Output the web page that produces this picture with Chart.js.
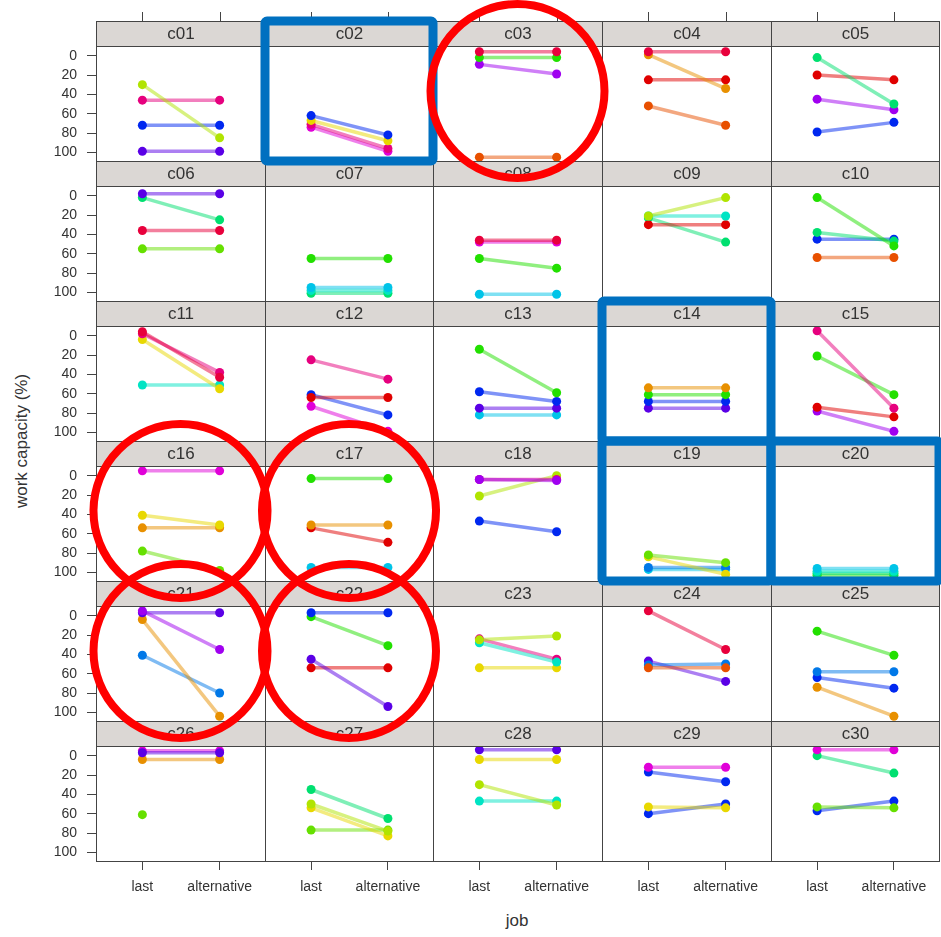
<!DOCTYPE html>
<html>
<head>
<meta charset="utf-8">
<title>work capacity by job</title>
<script src="https://cdn.jsdelivr.net/npm/chart.js@4.4.1/dist/chart.umd.min.js"></script>
<style>
    body { margin: 0; background: #fff; font-family: "Liberation Sans", Arial, sans-serif; }
    #wrap { position: relative; width: 941px; height: 937px; overflow: hidden; }
    #wrap canvas { position: absolute; }
    .axis-title { position: absolute; color: #333; font-size: 17px; white-space: nowrap; }
    #ylab { left: 22px; top: 441px; transform: translate(-50%, -50%) rotate(-90deg); }
    #xlab { left: 517px; top: 921px; transform: translate(-50%, -50%); }
    #marks { position: absolute; left: 0; top: 0; pointer-events: none; }
</style>
</head>
<body>
<div id="wrap">
    <div class="axis-title" id="ylab">work capacity (%)</div>
    <div class="axis-title" id="xlab">job</div>
    <svg id="marks" width="941" height="937"></svg>
</div>
<script>
// Data
const panelNames = ['c01','c02','c03','c04','c05','c06','c07','c08','c09','c10',
                    'c11','c12','c13','c14','c15','c16','c17','c18','c19','c20',
                    'c21','c22','c23','c24','c25','c26','c27','c28','c29','c30'];
const xTickLabels = ['last', 'alternative'];
const yTicks = [0, 20, 40, 60, 80, 100];

const lastValues = [
    [30, 46, 72, 99],  [62, 67, 71, 74],  [-4, 2, 9, 105],   [-4, -1, 25, 52], [2, 20, 45, 79],
    [-2, 2, 36, 55],   [65, 95, 98, 101], [46, 48, 65, 102], [21, 21, 30, 23], [2, 38, 45, 64],
    [-4, -2, 4, 51],   [25, 64, 61, 73],  [14, 58, 75, 82],  [54, 61, 68, 75], [-5, 21, 74, 78],
    [-5, 41, 54, 78],  [3, 51, 54, 95],   [4, 4, 21, 47],    [82, 84, 95, 97], [96, 99, 101, 103],
    [-5, -3, 4, 41],   [-3, 1, 45, 54],   [25, 28, 24, 54],  [-5, 54, 51, 47], [16, 58, 64, 74],
    [-3, -5, 4, 61],   [35, 50, 54, 77],  [-6, 4, 30, 47],   [12, 17, 53, 60], [-6, 0, 53, 57]
];
const altValues = [
    [85, 46, 72, 99],  [82, 88, 96, 99],  [-4, 2, 19, 105],  [-4, 34, 25, 72], [50, 25, 56, 69],
    [-2, 25, 36, 55],  [65, 95, 98, 101], [46, 48, 75, 102], [2, 21, 30, 48],  [52, 47, 45, 64],
    [43, 38, 55, 51],  [45, 64, 82, 99],  [59, 68, 75, 82],  [54, 61, 68, 75], [75, 61, 84, 99],
    [-5, 51, 54, 98],  [3, 51, 69, 95],   [5, 4, 0, 58],     [90, 102, 95, 97], [96, 99, 101, 103],
    [35, -3, 104, 80], [-3, 31, 94, 54],  [21, 48, 45, 54],  [35, 54, 50, 68], [41, 58, 75, 104],
    [-3, -5, 4, null], [65, 78, 83, 77],  [-6, 4, 51, 47],   [12, 27, 54, 50], [-6, 18, 54, 47]
];
const lineColors = [
    ['chartreuse','pink','blue','violet'], ['blue','yellow','pink','magenta'], ['crimson','green','purple','tangerine'],
    ['crimson','orange','red','tangerine'], ['spring','red','purple','blue'],
    ['violet','spring','crimson','lime'], ['green','cyan','turquoise','spring'], ['crimson','magenta','green','cyan'],
    ['chartreuse','turquoise','red','spring'], ['green','spring','blue','tangerine'],
    ['crimson','pink','yellow','turquoise'], ['pink','red','blue','magenta'], ['green','blue','violet','cyan'],
    ['orange','green','blue','violet'], ['pink','green','red','purple'],
    ['magenta','yellow','orange','lime'], ['green','orange','red','cyan'], ['purple','pink','chartreuse','blue'],
    ['lime','yellow','azure','cyan'], ['cyan','turquoise','spring','green'],
    ['purple','violet','orange','azure'], ['blue','green','violet','red'], ['chartreuse','turquoise','pink','yellow'],
    ['crimson','tangerine','azure','violet'], ['green','azure','blue','orange'],
    ['violet','magenta','orange','lime'], ['spring','chartreuse','yellow','lime'], ['violet','yellow','chartreuse','turquoise'],
    ['magenta','blue','yellow','blue'], ['magenta','spring','lime','blue']
];

// highlighted panels
const blueBoxes = ['c02', 'c14', 'c19', 'c20'];
const redCircles = ['c03', 'c16', 'c17', 'c21', 'c22'];

const palette = {
    crimson: '#e8003c', pink: '#e6007e', magenta: '#e000d8', purple: '#a000f0', violet: '#5a00e6',
    blue: '#0028f0', azure: '#0078e8', cyan: '#00c4e8', turquoise: '#00e4c4', spring: '#00e070',
    green: '#22e000', lime: '#66e000', chartreuse: '#b0e400', yellow: '#e8d800', orange: '#e89000',
    tangerine: '#e85000', red: '#e00000'
};

// panel grid (strip top of each row, column edges)
const colEdges = [96, 265, 433, 602, 771, 939];
const rowTops = [21, 161, 301, 441, 581, 721];
const stripH = 25;

function hexToRgba(hex, a) {
    const n = parseInt(hex.slice(1), 16);
    return `rgba(${(n >> 16) & 255}, ${(n >> 8) & 255}, ${n & 255}, ${a})`;
}

function framePlugin(name, topTicks) {
    return {
        id: 'frame',
        afterDraw(chart) {
            const { ctx, chartArea } = chart;
            const l = chartArea.left, r = chartArea.right, t = chartArea.top, b = chartArea.bottom;
            ctx.save();
            // strip
            ctx.fillStyle = '#dbd7d4';
            ctx.fillRect(l, t - stripH, r - l, stripH);
            ctx.strokeStyle = '#444';
            ctx.lineWidth = 1;
            ctx.strokeRect(l + 0.5, t - stripH + 0.5, r - l - 1, stripH);
            ctx.strokeRect(l + 0.5, t + 0.5, r - l - 1, b - t - 1);
            ctx.fillStyle = '#333';
            ctx.font = '17px "Liberation Sans", Arial, sans-serif';
            ctx.textAlign = 'center';
            ctx.textBaseline = 'middle';
            ctx.fillText(name, (l + r) / 2, t - stripH / 2 + 1);
            if (topTicks) {
                const xs = chart.scales.x;
                ctx.beginPath();
                [1, 2].forEach(v => {
                    const px = Math.round(xs.getPixelForValue(v)) + 0.5;
                    ctx.moveTo(px, t - stripH);
                    ctx.lineTo(px, t - stripH - 9);
                });
                ctx.stroke();
            }
            ctx.restore();
        }
    };
}

const wrap = document.getElementById('wrap');
const marks = document.getElementById('marks');

for (let i = 0; i < panelNames.length; i++) {
    const row = Math.floor(i / 5), col = i % 5;
    const leftPad = col === 0 ? 70 : 0;
    const topPad = row === 0 ? 12 : 0;
    const bottomPad = row === 5 ? 50 : 0;

    const canvas = document.createElement('canvas');
    canvas.width = colEdges[col + 1] - colEdges[col] + 1 + leftPad;
    canvas.height = 141 + topPad + bottomPad;
    canvas.style.left = (colEdges[col] - leftPad) + 'px';
    canvas.style.top = (rowTops[row] - topPad) + 'px';
    wrap.insertBefore(canvas, marks);

    const datasets = lineColors[i].map((c, k) => ({
        data: [{ x: 1, y: lastValues[i][k] }, { x: 2, y: altValues[i][k] }],
        borderColor: hexToRgba(palette[c], 0.5),
        borderWidth: 3.5,
        pointBackgroundColor: palette[c],
        pointBorderColor: palette[c],
        pointBorderWidth: 0,
        pointRadius: 4.5,
        tension: 0
    }));

    new Chart(canvas, {
        type: 'line',
        data: { datasets: datasets },
        options: {
            responsive: false,
            animation: false,
            events: [],
            layout: { autoPadding: false, padding: { top: stripH + topPad, left: 0, right: 0, bottom: 0 } },
            plugins: { legend: { display: false }, tooltip: { enabled: false } },
            scales: {
                x: {
                    type: 'linear',
                    min: 0.4,
                    max: 2.6,
                    display: row === 5,
                    afterBuildTicks: s => { s.ticks = [{ value: 1 }, { value: 2 }]; },
                    afterFit: s => {
                        if (row === 5) s.height = bottomPad;
                        s.paddingLeft = 0; s.paddingRight = 0;
                    },
                    border: { display: false },
                    grid: { drawOnChartArea: false, tickLength: 8, color: '#444' },
                    ticks: {
                        color: '#333',
                        padding: 9,
                        maxRotation: 0,
                        font: { size: 14, family: '"Liberation Sans", Arial, sans-serif' },
                        callback: v => xTickLabels[v - 1]
                    }
                },
                y: {
                    reverse: true,
                    min: -10,
                    max: 110,
                    display: col === 0,
                    afterBuildTicks: s => { s.ticks = yTicks.map(v => ({ value: v })); },
                    afterFit: s => {
                        if (col === 0) s.width = leftPad;
                        s.paddingTop = 0; s.paddingBottom = 0;
                    },
                    border: { display: false },
                    grid: { drawOnChartArea: false, tickLength: 9, color: '#444' },
                    ticks: {
                        color: '#333',
                        padding: 10,
                        font: { size: 14, family: '"Liberation Sans", Arial, sans-serif' }
                    }
                }
            }
        },
        plugins: [framePlugin(panelNames[i], row === 0)]
    });
}

// highlight marks over the panels
const NS = 'http://www.w3.org/2000/svg';
blueBoxes.forEach(name => {
    const i = panelNames.indexOf(name), row = Math.floor(i / 5), col = i % 5;
    const rect = document.createElementNS(NS, 'rect');
    rect.setAttribute('x', colEdges[col]);
    rect.setAttribute('y', rowTops[row]);
    rect.setAttribute('width', colEdges[col + 1] - colEdges[col]);
    rect.setAttribute('height', 140);
    rect.setAttribute('rx', 2);
    rect.setAttribute('fill', 'none');
    rect.setAttribute('stroke', '#0070c0');
    rect.setAttribute('stroke-width', 9);
    marks.appendChild(rect);
});
redCircles.forEach(name => {
    const i = panelNames.indexOf(name), row = Math.floor(i / 5), col = i % 5;
    const circle = document.createElementNS(NS, 'circle');
    circle.setAttribute('cx', (colEdges[col] + colEdges[col + 1]) / 2);
    circle.setAttribute('cy', rowTops[row] + 70);
    circle.setAttribute('r', 87);
    circle.setAttribute('fill', 'none');
    circle.setAttribute('stroke', '#ff0000');
    circle.setAttribute('stroke-width', 8);
    marks.appendChild(circle);
});
</script>
</body>
</html>
